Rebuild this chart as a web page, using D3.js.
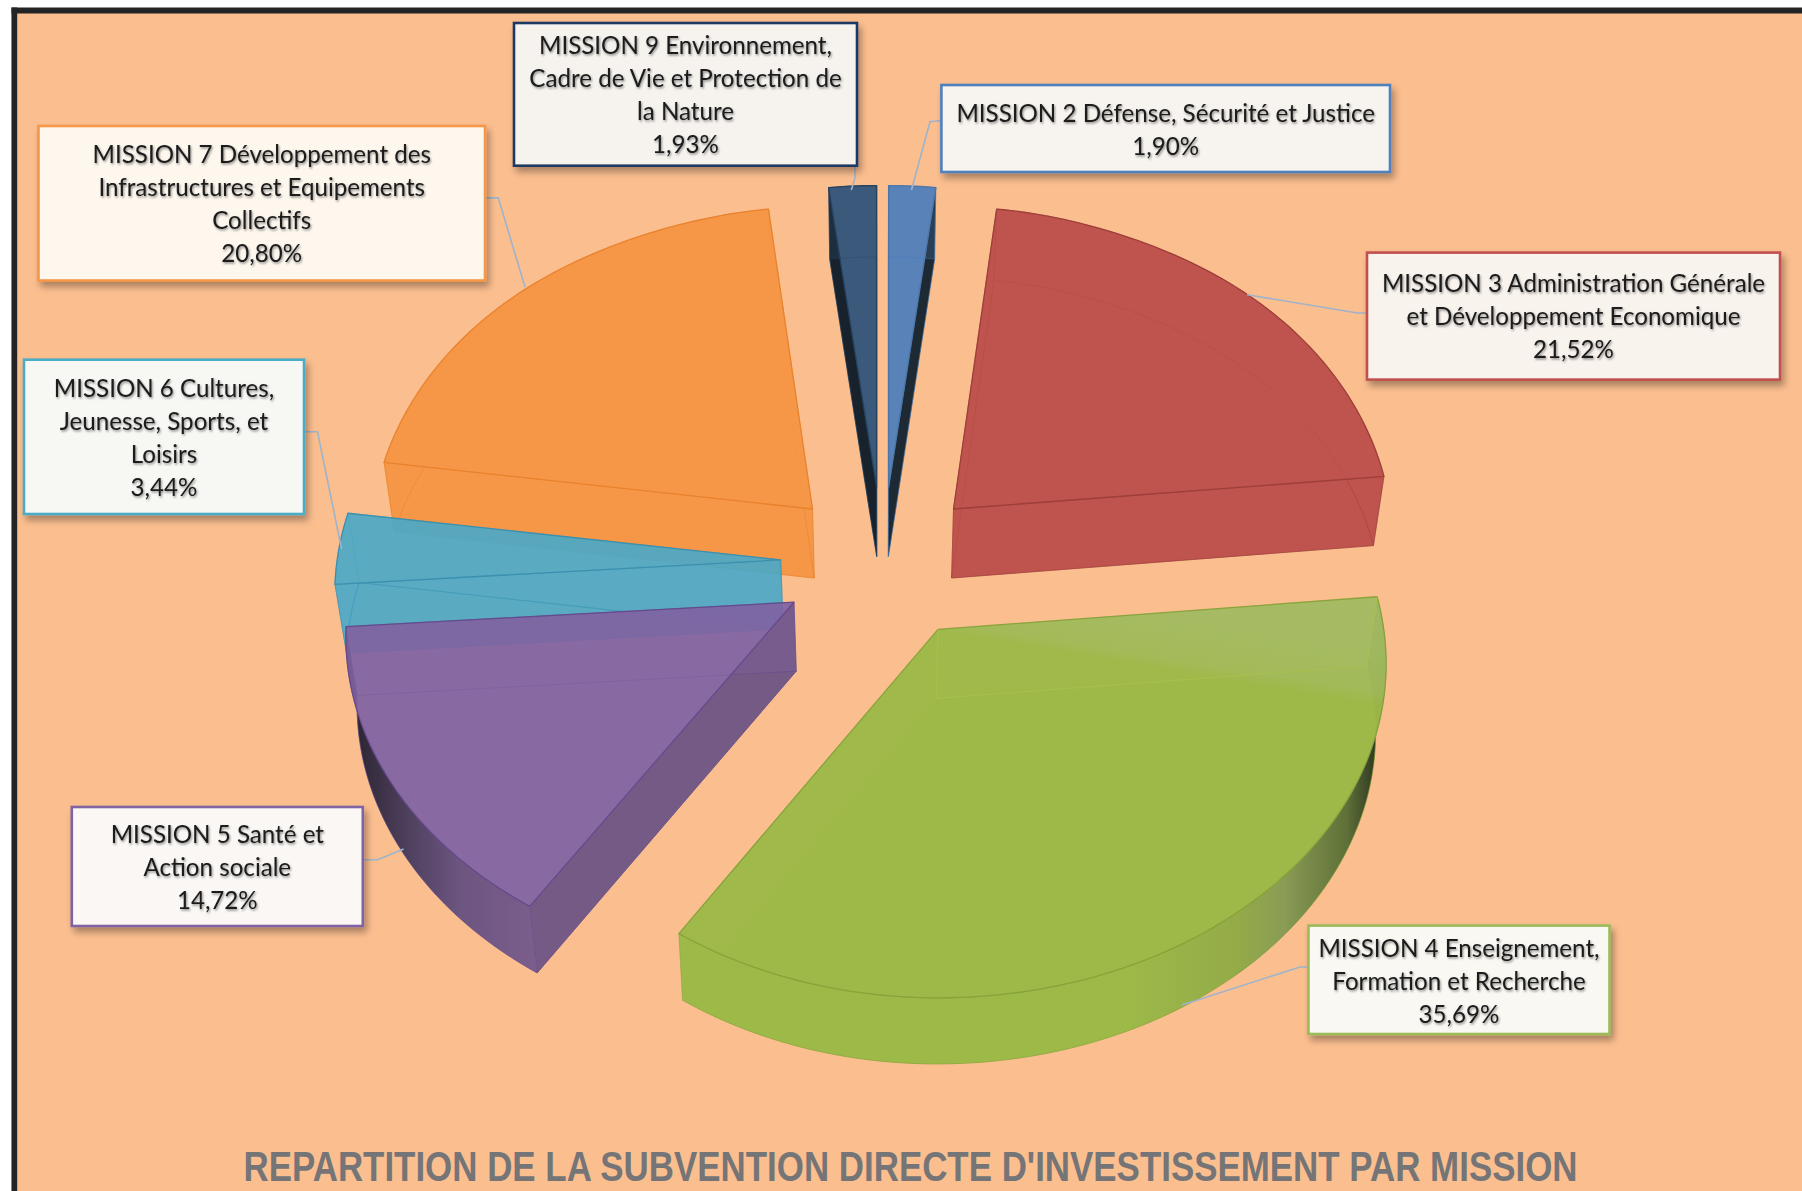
<!DOCTYPE html>
<html><head><meta charset="utf-8">
<script src="https://cdn.jsdelivr.net/npm/d3@7/dist/d3.min.js"></script>
<style>html,body{margin:0;padding:0;background:#fff}svg{display:block}</style>
</head><body>
<svg id="c" width="1802" height="1191"></svg>
<script>
const titleText = "REPARTITION DE LA SUBVENTION DIRECTE D'INVESTISSEMENT PAR MISSION";
const categories = ["MISSION 2","MISSION 3","MISSION 4","MISSION 5","MISSION 6","MISSION 7","MISSION 9"];
const values = [1.90,21.52,35.69,14.72,3.44,20.80,1.93];
const labelLines = [
 ["MISSION 2 Défense, Sécurité et Justice"],
 ["MISSION 3 Administration Générale","et Développement Economique"],
 ["MISSION 4 Enseignement,","Formation et Recherche"],
 ["MISSION 5 Santé et","Action sociale"],
 ["MISSION 6 Cultures,","Jeunesse, Sports, et","Loisirs"],
 ["MISSION 7 Développement des","Infrastructures et Equipements","Collectifs"],
 ["MISSION 9 Environnement,","Cadre de Vie et Protection de","la Nature"]
];
const fills   = ["#4e7ebb","#bb4e4a","#9db948","#8063a2","#4da9c6","#f59544","#2f5279"];
const strokes = ["#4a76ac","#9c3d39","#86a23a","#64498c","#3a8fae","#e8822c","#24405e"];
const borders = ["#4f81bd","#c0504d","#9bbb59","#8064a2","#4bacc6","#f79646","#1f3864"];
const boxFills = ["#f7f3ee","#f9f3ee","#f9f8f3","#faf7f4","#f7f8f4","#fdf7ee","#f6f3ef"];
// layout: slice apex on the top face, label box [x,y,w,h], first text baseline, leader polyline
const apexes = [[888.6,487.5],[953.5,509],[938,629.4],[794,602.2],[780.7,559.9],[812.5,509],[876.6,487.5]];
const boxes = [[941.4,85,448.6,87],[1367,252.6,413,127],[1308.5,925.6,301,108.4],[71.8,807,291,119],[24,359.7,280,154.3],[38.5,126,446.5,154.5],[514,23,343,142.7]];
const firstLine = [122,291.5,957,842.5,397,162.5,53.5];
const lineStep = 33;
const leaders = [
 [[941.4,120.5],[930,121.7],[911.5,190]],
 [[1367,313],[1357.4,313],[1247,294.7]],
 [[1308.5,967],[1300,967],[1182,1005]],
 [[362.8,859.8],[377.7,859.8],[403.6,849]],
 [[304,431.7],[317.5,431.7],[341.6,549]],
 [[485,197.9],[498.3,197.9],[525,287]],
 [[855,165.7],[855,178],[851.3,190]]
];
const drawOrder = [5,6,0,1,4,3,2];
// per-slice look: top-face alpha, alpha of the hidden faces, which radial wall faces the viewer
const topAlpha   = [0.92,0.92,0.97,0.90,0.90,0.92,0.92];
const underAlpha = [0.25,0.30,0.70,0.25,0.25,0.30,0.25];
const frontWall  = ["end","end","","start","start","start","start"];
const radiusLeft  = [1,1,1,1.02,1.015,1.005,1];
const radiusRight = [1,1,1.02,1,1,1,1];
const topNarrow   = [0,0.1,0,0,0,0.1,0];
const R = 437, RvBack = 333, RvFront = 330.5, persp = 0.103, depth = 69, baseScaleX = 0.98, baseScaleY = 0.992, vanishX = 880, vanishK = 0.974;

const svg = d3.select("#c");
const defs = svg.append("defs");
const boxShadow = defs.append("filter").attr("id","bs").attr("x","-10%").attr("y","-10%").attr("width","125%").attr("height","130%");
boxShadow.append("feDropShadow").attr("dx",3).attr("dy",5).attr("stdDeviation",3.5).attr("flood-color","#000").attr("flood-opacity",0.33);
const txtShadow = defs.append("filter").attr("id","ts").attr("x","-5%").attr("y","-20%").attr("width","110%").attr("height","150%");
txtShadow.append("feDropShadow").attr("dx",1).attr("dy",1.5).attr("stdDeviation",1.2).attr("flood-color","#000").attr("flood-opacity",0.45);

function hGrad(id, stops, x1, x2){
  const g = defs.append("linearGradient").attr("id",id).attr("gradientUnits","userSpaceOnUse")
    .attr("x1",x1).attr("x2",x2).attr("y1",0).attr("y2",0);
  stops.forEach(s=>g.append("stop").attr("offset",s[0]).attr("stop-color",s[1]));
}
hGrad("wall4",[[0,"#9db948"],[0.42,"#94ab48"],[0.6,"#8a9c55"],[0.85,"#5f7038"],[1,"#20281a"]],1130,1385);
hGrad("wall5",[[0,"#2a2430"],[0.3,"#4d3f5c"],[0.6,"#6c5580"],[1,"#7a5d8a"]],352,530);
const top4 = defs.append("linearGradient").attr("id","top4").attr("gradientUnits","userSpaceOnUse")
  .attr("x1",1178).attr("y1",672).attr("x2",1188).attr("y2",612);
[[0,"#9db948"],[0.2,"#a1ba58"],[1,"#a3bb62"]].forEach(s=>top4.append("stop").attr("offset",s[0]).attr("stop-color",s[1]));

svg.append("rect").attr("x",11.5).attr("y",8).attr("width",1800).attr("height",1200).attr("fill","#fbbe8f");
svg.append("rect").attr("x",11.5).attr("y",7.5).attr("width",1791).attr("height",6).attr("fill","#222426");
svg.append("rect").attr("x",11.5).attr("y",7.5).attr("width",5.7).attr("height",1184).attr("fill","#222426");

const pieGen = d3.pie().sort(null).value(d=>d).startAngle(0).endAngle(2*Math.PI);
const arcs = pieGen(values);
function apex(i, base){
  return base ? [vanishX + (apexes[i][0]-vanishX)*vanishK, apexes[i][1] + depth] : apexes[i];
}
function proj(a, i, base){
  const u = Math.sin(a), v = -Math.cos(a), w = 1 - persp*v;
  const c = apex(i, base);
  const rad = R * (u<0 ? radiusLeft[i] : radiusRight[i]) / (1 + topNarrow[i]*Math.pow(Math.max(0,-v),8));
  return [c[0] + (base?baseScaleX:1)*rad*u/w, c[1] + (base?baseScaleY:1)*(v<0?RvBack:RvFront)*v/w];
}
const closed = d3.line().curve(d3.curveLinearClosed);
const open = d3.line();

const slices = svg.append("g");
drawOrder.forEach(i=>{
  const A = arcs[i], g = slices.append("g");
  const n = Math.max(4, Math.ceil((A.endAngle-A.startAngle)/0.02));
  const ang = d3.range(n+1).map(k=>A.startAngle + (A.endAngle-A.startAngle)*k/n);
  const topArc = ang.map(a=>proj(a,i,false));
  const botArc = ang.map(a=>proj(a,i,true));
  const face = (pts,fill,op,sop,sw)=>g.append("path").attr("d",closed(pts)).attr("fill",fill).attr("fill-opacity",op)
      .attr("stroke",strokes[i]).attr("stroke-opacity",sop).attr("stroke-width",sw||1).attr("stroke-linejoin","round");
  const a = topAlpha[i], b = underAlpha[i];
  face([apex(i,true),...botArc],fills[i],b,0.5);
  const wallS = [apex(i,false),topArc[0],botArc[0],apex(i,true)];
  const wallE = [apex(i,false),topArc[n],botArc[n],apex(i,true)];
  const dark = i===0?"#1e2a33":i===6?"#17222c":i===3?"#765a86":null;
  face(wallS,frontWall[i]==="start"?(dark||fills[i]):fills[i],frontWall[i]==="start"?(dark?1:a):(i===2?0.1:b),i===2?0.2:0.5);
  face(wallE,frontWall[i]==="end"?(dark||fills[i]):fills[i],frontWall[i]==="end"?(dark?1:a):(i===2?0.1:b),i===2?0.2:0.5);
  const grad = i===2?"url(#wall4)":i===3?"url(#wall5)":null;
  face([...topArc,...botArc.slice().reverse()],grad||fills[i],grad?1:b,0.45);
  face([apex(i,false),...topArc],i===2?"url(#top4)":fills[i],a,0.95,1.3);
  if(i===2){
    // the hidden base edges of this slice show faintly through its top face
    g.append("path").attr("d",open([apex(i,false),apex(i,true),botArc[0],topArc[0]]))
      .attr("fill","none").attr("stroke","#a9c24e").attr("stroke-opacity",0.75).attr("stroke-width",1.2);
  }
});

svg.append("g").selectAll("path").data(leaders).join("path")
  .attr("d",d=>open(d)).attr("fill","none").attr("stroke","#9db4cc").attr("stroke-width",1.6);

const bg = svg.append("g").selectAll("g").data(categories).join("g");
bg.append("rect")
  .attr("x",(d,i)=>boxes[i][0]).attr("y",(d,i)=>boxes[i][1])
  .attr("width",(d,i)=>boxes[i][2]).attr("height",(d,i)=>boxes[i][3])
  .attr("fill",(d,i)=>boxFills[i]).attr("stroke",(d,i)=>borders[i]).attr("stroke-width",2.6)
  .attr("filter","url(#bs)");
const fmt = d3.format(".2f");
bg.append("text")
  .attr("font-family","Lato, sans-serif").attr("font-size",24.15).attr("fill","#1a1a1a")
  .attr("text-anchor","middle").attr("filter","url(#ts)")
  .each(function(d,i){
    const t = d3.select(this);
    const cx = boxes[i][0]+boxes[i][2]/2;
    labelLines[i].concat(fmt(values[i]).replace(".",",")+"%").forEach((s,k)=>{
      t.append("tspan").attr("x",cx).attr("y",firstLine[i]+k*lineStep).text(s);
    });
  });

svg.append("text").attr("x",243.5).attr("y",1181).attr("textLength",1334).attr("lengthAdjust","spacingAndGlyphs")
  .attr("font-family","'Liberation Sans', Arial, sans-serif").attr("font-weight","bold").attr("font-size",43)
  .attr("fill","#757577").text(titleText);
</script>
</body></html>
